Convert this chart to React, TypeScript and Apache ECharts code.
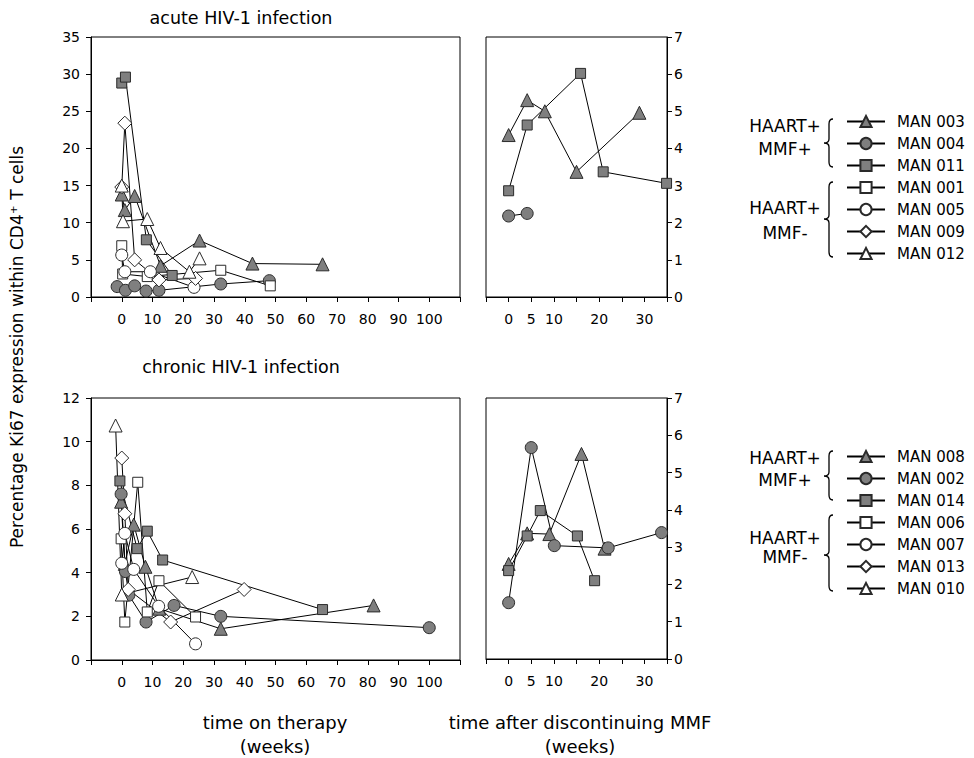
import React, { useEffect, useRef } from "react";
import * as echarts from "echarts";

// ---------- data ----------
const acuteNames = ["MAN 003", "MAN 004", "MAN 011", "MAN 001", "MAN 005", "MAN 009", "MAN 012"];
const chronicNames = ["MAN 008", "MAN 002", "MAN 014", "MAN 006", "MAN 007", "MAN 013", "MAN 010"];

const therapyTickLabels = [0, 10, 20, 30, 40, 50, 60, 70, 80, 90, 100];
const offTickLabels = [0, 5, 10, 20, 30];

// acute infection: time on therapy (weeks) vs % Ki67
const man003Therapy = [[0, 13.8], [1, 11.7], [4.2, 13.6], [12.6, 4.2], [25.3, 7.6], [42.5, 4.5], [65.3, 4.4]];
const man004Therapy = [[-1.5, 1.4], [1.2, 0.9], [4.2, 1.5], [7.9, 0.8], [12.1, 0.9], [32.2, 1.75], [48, 2.2]];
const man011Therapy = [[0, 28.8], [1.2, 29.6], [8, 7.7], [16.4, 2.9]];
const man001Therapy = [[0, 6.9], [0.3, 3.1], [8.3, 2.75], [32.2, 3.6], [48.3, 1.5]];
const man005Therapy = [[0, 5.65], [1, 3.4], [9.3, 3.4], [23.5, 1.3]];
const man009Therapy = [[0, 14.8], [1, 23.4], [4.2, 5.0], [12.1, 2.3], [24, 2.5]];
const man012Therapy = [[0, 15], [0.4, 10.2], [8.3, 10.5], [12.6, 6.6], [22, 3.4], [25.3, 5.2]];

// acute infection: time after discontinuing MMF
const man003Off = [[0, 4.36], [4.1, 5.3], [8, 5.0], [15, 3.37], [28.9, 4.96]];
const man004Off = [[0, 2.18], [4.1, 2.25]];
const man011Off = [[0, 2.86], [4.1, 4.63], [15.9, 6.02], [20.9, 3.37], [34.9, 3.06]];

// chronic infection: time on therapy
const man008Therapy = [[-0.2, 7.25], [1, 4.4], [3.9, 6.2], [7.7, 4.27], [12.2, 2.35], [32.2, 1.43], [81.9, 2.5]];
const man002Therapy = [[-0.2, 7.6], [1.2, 4.05], [2.3, 2.97], [7.9, 1.74], [17, 2.5], [32.2, 2.0], [100, 1.48]];
const man014Therapy = [[-0.6, 8.2], [5, 5.1], [8.3, 5.9], [13.3, 4.58], [65.3, 2.31]];
const man006Therapy = [[-0.2, 5.55], [1, 1.74], [5.2, 8.14], [8.3, 2.2], [12.1, 3.63], [24, 1.97]];
const man007Therapy = [[0, 4.43], [1, 5.8], [3.9, 4.15], [12, 2.46], [24, 0.74]];
const man013Therapy = [[0, 9.25], [1, 6.7], [2.1, 3.23], [15.9, 1.74], [39.8, 3.23]];
const man010Therapy = [[-2, 10.74], [0, 3.0], [22.9, 3.8]];

// chronic infection: time after discontinuing MMF
const man008Off = [[0, 2.55], [4.1, 3.37], [9, 3.35], [16.1, 5.5], [21.2, 2.96]];
const man002Off = [[0, 1.51], [5, 5.67], [10.1, 3.04], [22, 2.98], [33.8, 3.39]];
const man014Off = [[0, 2.37], [4.1, 3.3], [7, 3.98], [15.2, 3.3], [19, 2.1]];

// ---------- styles ----------
const FONT = "DejaVu Sans";
const GRAY = "#7f7f7f";
const EDGE = "#2a2a2a";

const markers: Record<string, { symbol: string; size: number; fill: string }> = {
  tri_g: { symbol: "triangle", size: 13, fill: GRAY },
  cir_g: { symbol: "circle", size: 12, fill: GRAY },
  sq_g: { symbol: "rect", size: 10, fill: GRAY },
  sq_w: { symbol: "rect", size: 10, fill: "#fff" },
  cir_w: { symbol: "circle", size: 12, fill: "#fff" },
  dia_w: { symbol: "diamond", size: 14, fill: "#fff" },
  tri_w: { symbol: "triangle", size: 13, fill: "#fff" },
};

function braceD(x0: number, y1: number, y2: number, ym: number) {
  const xl = x0 - 1;
  return `M ${x0 + 3} ${y1} Q ${xl} ${y1} ${xl} ${y1 + 5} L ${xl} ${ym - 4} Q ${xl} ${ym} ${x0 - 6} ${ym} Q ${xl} ${ym} ${xl} ${ym + 4} L ${xl} ${y2 - 5} Q ${xl} ${y2} ${x0 + 3} ${y2}`;
}

let registered = false;
function registerBraces() {
  if (registered) return;
  registered = true;
  echarts.graphic.registerShape("brace1", echarts.graphic.extendPath(braceD(830, 119, 167, 143), {}));
  echarts.graphic.registerShape("brace2", echarts.graphic.extendPath(braceD(830, 182, 257, 219), {}));
  echarts.graphic.registerShape("brace3", echarts.graphic.extendPath(braceD(830, 451, 500, 476), {}));
  echarts.graphic.registerShape("brace4", echarts.graphic.extendPath(braceD(830, 515, 591, 555), {}));
}

function mkSeries(name: string, data: number[][], m: string, axis: number) {
  const mk = markers[m];
  return {
    type: "line",
    name,
    data,
    xAxisIndex: axis,
    yAxisIndex: axis,
    symbol: mk.symbol,
    symbolSize: mk.size,
    showAllSymbol: true,
    lineStyle: { color: "#000", width: 1 },
    itemStyle: { color: mk.fill, borderColor: EDGE, borderWidth: 1 },
    emphasis: { disabled: true },
    z: 2,
  };
}

function xAxisCfg(grid: number, min: number, max: number, interval: number, shown: number[]) {
  return {
    type: "value",
    gridIndex: grid,
    min,
    max,
    interval,
    axisLine: { show: true, onZero: false, lineStyle: { color: "#000", width: 1 } },
    axisTick: { show: true, inside: false, length: 5, lineStyle: { color: "#000" } },
    axisLabel: {
      margin: 15,
      fontSize: 14,
      fontFamily: FONT,
      color: "#000",
      formatter: (v: number) => (shown.indexOf(v) >= 0 ? String(v) : ""),
    },
    splitLine: { show: false },
  };
}

function yAxisCfg(grid: number, max: number, interval: number, position: string) {
  return {
    type: "value",
    gridIndex: grid,
    min: 0,
    max,
    interval,
    position,
    axisLine: { show: true, onZero: false, lineStyle: { color: "#000", width: 1 } },
    axisTick: { show: true, inside: false, length: 5, lineStyle: { color: "#000" } },
    axisLabel: { margin: position === "left" ? 11 : 7, fontSize: 14, fontFamily: FONT, color: "#000" },
    splitLine: { show: false },
  };
}

function txt(text: string, x: number, y: number, size: number, rotation = 0) {
  return {
    type: "text",
    x,
    y,
    rotation,
    style: {
      text,
      fill: "#000",
      font: `${size}px '${FONT}'`,
      textAlign: "center",
      textVerticalAlign: "middle",
    },
    silent: true,
  };
}

const braceStyle = { fill: "none", stroke: "#000", lineWidth: 1.3 };

export default function App() {
  const ref = useRef<HTMLDivElement>(null);
  useEffect(() => {
    if (!ref.current) return;
    registerBraces();
    const chart = echarts.init(ref.current, undefined, { renderer: "svg" });
    const gridBase = { show: true, borderColor: "#000", borderWidth: 1, backgroundColor: "transparent", containLabel: false };
    const legendBase = {
      orient: "vertical",
      left: 846,
      padding: 0,
      itemWidth: 38,
      itemHeight: 14,
      itemGap: 7,
      selectedMode: false,
      textStyle: { fontSize: 15, lineHeight: 14, fontFamily: FONT, color: "#000", padding: [0, 0, 0, 7] },
    };
    chart.setOption({
      animation: false,
      backgroundColor: "#fff",
      grid: [
        { ...gridBase, left: 91, top: 37, width: 369, height: 260 },
        { ...gridBase, left: 486, top: 37, width: 181, height: 260 },
        { ...gridBase, left: 91, top: 398, width: 369, height: 262 },
        { ...gridBase, left: 486, top: 398, width: 181, height: 261 },
      ],
      xAxis: [
        xAxisCfg(0, -10, 110, 10, therapyTickLabels),
        xAxisCfg(1, -5, 35, 5, offTickLabels),
        xAxisCfg(2, -10, 110, 10, therapyTickLabels),
        xAxisCfg(3, -5, 35, 5, offTickLabels),
      ],
      yAxis: [
        yAxisCfg(0, 35, 5, "left"),
        yAxisCfg(1, 7, 1, "right"),
        yAxisCfg(2, 12, 2, "left"),
        yAxisCfg(3, 7, 1, "right"),
      ],
      legend: [
        { ...legendBase, top: 114, data: acuteNames },
        { ...legendBase, top: 449, data: chronicNames },
      ],
      series: [
        mkSeries("MAN 003", man003Therapy, "tri_g", 0),
        mkSeries("MAN 004", man004Therapy, "cir_g", 0),
        mkSeries("MAN 011", man011Therapy, "sq_g", 0),
        mkSeries("MAN 001", man001Therapy, "sq_w", 0),
        mkSeries("MAN 005", man005Therapy, "cir_w", 0),
        mkSeries("MAN 009", man009Therapy, "dia_w", 0),
        mkSeries("MAN 012", man012Therapy, "tri_w", 0),
        mkSeries("MAN 003", man003Off, "tri_g", 1),
        mkSeries("MAN 004", man004Off, "cir_g", 1),
        mkSeries("MAN 011", man011Off, "sq_g", 1),
        mkSeries("MAN 008", man008Therapy, "tri_g", 2),
        mkSeries("MAN 002", man002Therapy, "cir_g", 2),
        mkSeries("MAN 014", man014Therapy, "sq_g", 2),
        mkSeries("MAN 006", man006Therapy, "sq_w", 2),
        mkSeries("MAN 007", man007Therapy, "cir_w", 2),
        mkSeries("MAN 013", man013Therapy, "dia_w", 2),
        mkSeries("MAN 010", man010Therapy, "tri_w", 2),
        mkSeries("MAN 008", man008Off, "tri_g", 3),
        mkSeries("MAN 002", man002Off, "cir_g", 3),
        mkSeries("MAN 014", man014Off, "sq_g", 3),
      ],
      graphic: [
        txt("acute HIV-1 infection", 241, 18, 17.5),
        txt("chronic HIV-1 infection", 241, 367, 17.5),
        txt("time on therapy", 275, 722, 18),
        txt("(weeks)", 275, 746, 18),
        txt("time after discontinuing MMF", 580, 722, 18),
        txt("(weeks)", 580, 746, 18),
        txt("Percentage Ki67 expression within CD4\u207A T cells", 17, 347, 17, Math.PI / 2),
        txt("HAART+", 785, 126, 17),
        txt("MMF+", 785, 149, 17),
        txt("HAART+", 785, 208, 17),
        txt("MMF-", 785, 233, 17),
        txt("HAART+", 785, 458, 17),
        txt("MMF+", 785, 480, 17),
        txt("HAART+", 785, 538, 17),
        txt("MMF-", 785, 557, 17),
        { type: "brace1", x: 0, y: 0, style: braceStyle, silent: true },
        { type: "brace2", x: 0, y: 0, style: braceStyle, silent: true },
        { type: "brace3", x: 0, y: 0, style: braceStyle, silent: true },
        { type: "brace4", x: 0, y: 0, style: braceStyle, silent: true },
      ],
    });
    return () => chart.dispose();
  }, []);
  return (
    <div
      ref={ref}
      style={{ position: "absolute", left: 0, top: 0, width: 974, height: 758, background: "#fff" }}
    />
  );
}
